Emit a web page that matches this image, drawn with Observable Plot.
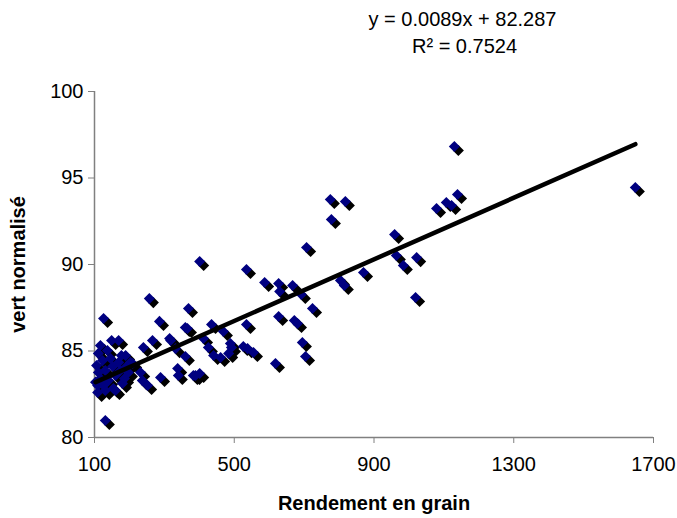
<!DOCTYPE html>
<html>
<head>
<meta charset="utf-8">
<script src="https://cdn.jsdelivr.net/npm/d3@7"></script>
<script src="https://cdn.jsdelivr.net/npm/@observablehq/plot@0.6"></script>
<style>
  html, body { margin: 0; padding: 0; background: #fff; }
  #chart svg { display: block; }
</style>
</head>
<body>
<div id="chart"></div>
<script>
// Rendement en grain (x) and vert normalisé (y)
const rendement = [
  1648, 1130, 1139, 1079, 1107, 1122, 1022, 984, 1019, 959,
  964, 778, 775, 818, 707, 667, 692, 804, 815, 870,
  724, 672, 681, 695, 704, 401, 535, 587, 627, 630,
  369, 360, 435, 535, 627, 412, 469, 489, 318, 332,
  360, 338, 383, 401, 441, 461, 484, 492, 526, 538,
  555, 618, 257, 286, 126, 131, 149, 169, 240, 266,
  315, 366, 426, 111, 189, 203, 232, 289, 237, 252,
  340, 389, 109, 131, 160, 180, 106, 111, 117, 109,
  123, 131, 140, 146, 152, 160, 169, 174, 186, 192,
  137, 154, 177, 197, 209, 126, 117, 103
];
const vertNormalise = [
  94.45, 96.82, 94.05, 93.24, 93.58, 93.41, 90.40, 89.94, 88.09, 91.73,
  90.52, 92.60, 93.76, 93.64, 90.98, 88.79, 88.27, 89.08, 88.79, 89.54,
  87.46, 86.76, 86.59, 85.49, 84.68, 90.17, 89.71, 88.96, 88.90, 88.44,
  87.46, 86.36, 86.53, 86.53, 86.99, 85.72, 86.13, 85.43, 85.61, 85.14,
  84.68, 83.99, 83.58, 83.70, 84.74, 84.62, 84.86, 85.20, 85.26, 85.14,
  84.91, 84.28, 88.03, 86.71, 86.88, 80.98, 85.61, 85.61, 85.20, 85.61,
  85.72, 86.30, 85.20, 84.86, 84.74, 84.34, 83.76, 83.47, 83.29, 83.01,
  83.58, 83.58, 83.01, 82.72, 82.72, 83.12, 84.16, 83.76, 83.41, 82.60,
  84.45, 83.87, 83.29, 84.57, 84.10, 83.58, 84.34, 83.87, 83.41, 84.10,
  85.03, 82.83, 84.74, 83.76, 84.28, 83.01, 85.32, 83.20
];
const xTicks = [100, 500, 900, 1300, 1700];
const yTicks = [80, 85, 90, 95, 100];
const slope = [0.0089];
const intercept = [82.287];
const equationLines = ["y = 0.0089x + 82.287", "R² = 0.7524"];
const xTitle = "Rendement en grain";
const yTitle = "vert normalisé";

const points = rendement.map((x, i) => ({x, y: vertNormalise[i]}));
const [xMin, xMax] = d3.extent(rendement);
const trend = [xMin, xMax].map(x => ({x, y: slope[0] * x + intercept[0]}));

const font = "'Liberation Sans', Arial, sans-serif";

const chart = Plot.plot({
  width: 677,
  height: 518,
  marginLeft: 94,
  marginRight: 24,
  marginTop: 91,
  marginBottom: 81,
  style: {fontFamily: font, fontSize: "20px", color: "#000", background: "#fff"},
  x: {domain: [100, 1700], ticks: xTicks},
  y: {domain: [80, 100], ticks: yTicks},
  marks: [
    Plot.ruleX([100], {stroke: "#808080", strokeWidth: 1.5}),
    Plot.ruleY([80], {stroke: "#808080", strokeWidth: 1.5}),
    Plot.axisX({ticks: xTicks, tickSize: 6, tickPadding: 13, stroke: "#808080", label: null, fontSize: 20, fill: "#000", tickFormat: d => String(d)}),
    Plot.axisY({ticks: yTicks, tickSize: 6, tickPadding: 5, stroke: "#808080", label: null, fontSize: 20, fill: "#000", tickFormat: d => String(d)}),
    Plot.dot(points, {x: "x", y: "y", symbol: "diamond2", r: 5, fill: "#000000", stroke: "none", dx: 4, dy: 4}),
    Plot.dot(points, {x: "x", y: "y", symbol: "diamond2", r: 5, fill: "#000080", stroke: "none"}),
    Plot.line(trend, {x: "x", y: "y", stroke: "#000", strokeWidth: 4.5}),
    Plot.text([xTitle], {frameAnchor: "bottom", dy: 66, lineAnchor: "middle", textAnchor: "middle", fontSize: 20, fontWeight: "bold", fill: "#000"}),
    Plot.text([yTitle], {frameAnchor: "left", dx: -76, rotate: -90, lineAnchor: "middle", textAnchor: "middle", fontSize: 20, fontWeight: "bold", fill: "#000"}),
    Plot.text([equationLines[0]], {frameAnchor: "top-left", dx: 368, dy: -72, lineAnchor: "middle", textAnchor: "middle", fontSize: 20, fill: "#000"}),
    Plot.text([equationLines[1]], {frameAnchor: "top-left", dx: 370, dy: -45, lineAnchor: "middle", textAnchor: "middle", fontSize: 20, fill: "#000"})
  ]
});
document.getElementById("chart").appendChild(chart);
</script>
</body>
</html>
